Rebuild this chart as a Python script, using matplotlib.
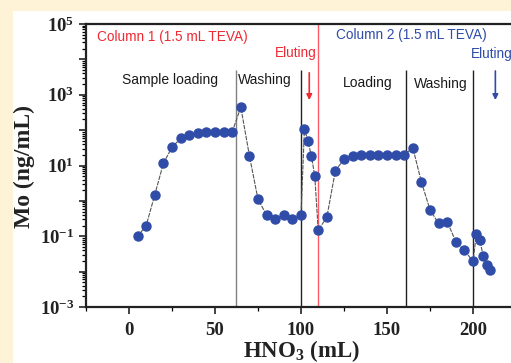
import numpy as np
import matplotlib
matplotlib.use("Agg")
import matplotlib.pyplot as plt
from matplotlib.patches import Rectangle
from matplotlib.ticker import LogLocator, FuncFormatter, NullFormatter, MultipleLocator

plt.rcParams['mathtext.fontset'] = 'custom'
plt.rcParams['mathtext.rm'] = 'Liberation Serif:bold'
plt.rcParams['mathtext.it'] = 'Liberation Serif:bold'
plt.rcParams['mathtext.bf'] = 'Liberation Serif:bold'
plt.rcParams['mathtext.default'] = 'rm'
plt.rcParams['axes.unicode_minus'] = False

# HNO3 volume (mL) and Mo concentration (ng/mL)
vol = [5, 10, 15, 20, 25, 30, 35, 40, 45, 50, 55, 60, 65, 70, 75, 80, 85, 90, 95, 100,
       102, 104, 106, 108, 110, 115, 120, 125, 130, 135, 140, 145, 150, 155, 160, 165,
       170, 175, 180, 185, 190, 195, 200, 202, 204, 206, 208, 210]
mo = [0.1, 0.2, 1.5, 11.5, 33, 58, 74, 83, 89, 89, 89, 89, 445, 19, 1.1, 0.4, 0.3, 0.4, 0.3, 0.4,
      110, 49, 19, 5.1, 0.15, 0.34, 7.2, 15, 19, 20, 20, 20, 20, 20, 20, 32,
      3.4, 0.56, 0.23, 0.26, 0.07, 0.04, 0.0195, 0.117, 0.076, 0.027, 0.0155, 0.011]

step_lines = [62, 100, 161, 200]
step_colors = ['#808080', '#222222', '#222222', '#222222']
switch_at = 110

red = '#ee2a33'
blue = '#2f4ca8'

fig = plt.figure(figsize=(5.11, 3.63), dpi=100)
fig.patch.set_facecolor('#fef3d7')
bg = Rectangle((13 / 511, 0), 1, 1 - 11 / 363, transform=fig.transFigure,
               facecolor='white', edgecolor='none', zorder=-10)
fig.add_artist(bg)

ax = fig.add_axes([86 / 511, 56 / 363, 430 / 511, 283 / 363])
ax.set_zorder(1)
ax.set_facecolor('white')
ax.set_yscale('log')
ax.set_xlim(-25, 225)
ax.set_ylim(1e-3, 1e5)

ax.vlines(step_lines, 1e-3, 5e3, colors=step_colors, lw=1.0, zorder=2)
ax.axvline(switch_at, color='#ff5a68', lw=1.0, zorder=2)

ax.plot(vol, mo, color='#555555', lw=0.8, ls=(0, (4, 1)), zorder=3)
ax.plot(vol, mo, ls='none', marker='o', ms=6.5, mfc=blue, mec=blue, zorder=4)

sans = 'Liberation Sans'
dark = '#1a1a1a'
ax.text(-18.6, 10**4.63, 'Column 1 (1.5 mL TEVA)', color=red, fontsize=9.8, family=sans,
        va='center', ha='left')
ax.text(120.3, 10**4.69, 'Column 2 (1.5 mL TEVA)', color=blue, fontsize=9.8, family=sans,
        va='center', ha='left')
ax.text(109.1, 10**4.18, 'Eluting', color=red, fontsize=9.8, family=sans, va='center', ha='right')
ax.text(198.7, 10**4.15, 'Eluting', color=blue, fontsize=9.8, family=sans, va='center', ha='left')
ax.text(-4.1, 10**3.42, 'Sample loading', color=dark, fontsize=10, family=sans, va='center')
ax.text(63.4, 10**3.42, 'Washing', color=dark, fontsize=10, family=sans, va='center')
ax.text(124.4, 10**3.33, 'Loading', color=dark, fontsize=10, family=sans, va='center')
ax.text(165.7, 10**3.31, 'Washing', color=dark, fontsize=10, family=sans, va='center')

ax.annotate('', xy=(104.8, 10**2.77), xytext=(104.8, 10**3.70),
            arrowprops=dict(arrowstyle='-|>', color=red, lw=1.2, mutation_scale=8))
ax.annotate('', xy=(213, 10**2.77), xytext=(213, 10**3.75),
            arrowprops=dict(arrowstyle='-|>', color=blue, lw=1.2, mutation_scale=8))

for s in ['left', 'bottom', 'top']:
    ax.spines[s].set_linewidth(1.6)
    ax.spines[s].set_color('#222222')
ax.spines['right'].set_visible(False)

ax.xaxis.set_major_locator(MultipleLocator(50))
ax.xaxis.set_minor_locator(MultipleLocator(25))
ax.yaxis.set_major_locator(LogLocator(base=10, numticks=20))
ax.yaxis.set_minor_locator(LogLocator(base=10, subs=np.arange(2, 10), numticks=20))
ax.yaxis.set_minor_formatter(NullFormatter())


def ylab(v, pos):
    e = int(round(np.log10(v)))
    if e % 2 == 0:
        return ''
    return r'$10^{\scriptstyle %d}$' % e if False else r'$10^{%d}$' % e


ax.yaxis.set_major_formatter(FuncFormatter(ylab))
ax.tick_params(axis='both', which='major', direction='out', length=5, width=1.2,
               labelsize=13.5, colors='#222222', top=False, right=False)
ax.tick_params(axis='both', which='minor', direction='out', length=3, width=0.9,
               top=False, right=False)
ax.tick_params(axis='x', pad=6)
for lab in ax.get_xticklabels():
    lab.set_family('Liberation Serif')
    lab.set_fontweight('bold')

ax.set_xlabel(r'HNO$_3$ (mL)', fontsize=16.5, family='Liberation Serif', fontweight='bold',
              color='#222222')
ax.set_ylabel('Mo (ng/mL)', fontsize=17, family='Liberation Serif', fontweight='bold',
              color='#222222')
ax.xaxis.set_label_coords(0.502, -0.108)
ax.yaxis.set_label_coords(-0.144, 0.498)
ax.xaxis.label.set_va('top')
ax.yaxis.label.set_va('center')

fig.savefig('out.png', dpi=100, facecolor=fig.get_facecolor())
